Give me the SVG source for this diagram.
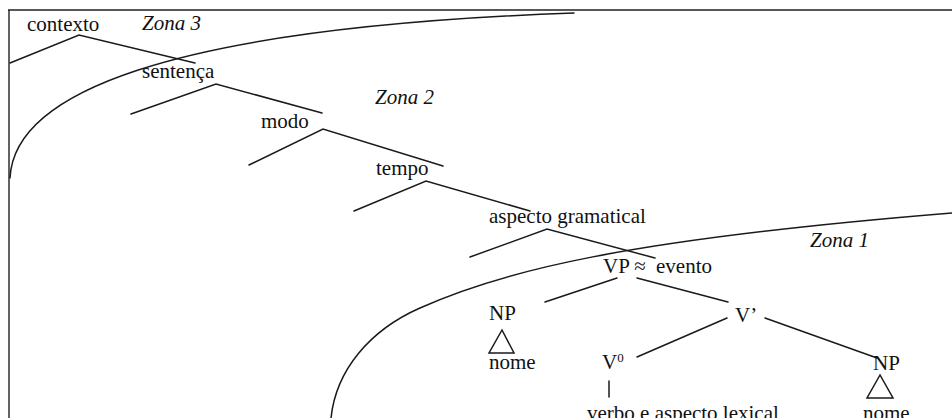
<svg xmlns="http://www.w3.org/2000/svg" width="952" height="418" viewBox="0 0 952 418">
<style>
text{font-family:"Liberation Serif","Times New Roman",serif;font-size:21px;fill:#111}
.it{font-style:italic}
.ln{stroke:#1a1a1a;stroke-width:1.5;fill:none;stroke-linecap:round}
.fr{stroke:#222;stroke-width:1.4;fill:none}
</style>
<rect width="952" height="418" fill="#fff"/>
<g id="frame">
<path class="fr" d="M8 10 H952 M9 10 V418"/>
</g>
<g id="zones">
<path class="ln" d="M10 178 C14 95, 160 28, 574 13"/>
<path class="ln" d="M331 418 C336 370, 370 330, 420 308 C500 272, 620 240, 952 213"/>
<text class="it" x="142" y="30">Zona 3</text>
<text class="it" x="375" y="104">Zona 2</text>
<text class="it" x="810" y="247">Zona 1</text>
</g>
<g id="connectors">
<path class="ln" d="M10 63 L79 35 L195 63"/>
<path class="ln" d="M131 114 L216 84 L322 113"/>
<path class="ln" d="M249 165 L323 129 L443 166"/>
<path class="ln" d="M354 211 L426 181 L530 211"/>
<path class="ln" d="M470 257 L547 229 L655 258"/>
<path class="ln" d="M545 302 L617 278"/>
<path class="ln" d="M637 278 L728 302"/>
<path class="ln" d="M637 357 L727 318"/>
<path class="ln" d="M765 318 L877 358"/>
<path class="ln" d="M609 381 V397"/>
</g>
<g id="contexto"><text x="27" y="31">contexto</text></g>
<g id="sentenca"><text x="142" y="78">sentença</text></g>
<g id="modo"><text x="261" y="128">modo</text></g>
<g id="tempo"><text x="376" y="175">tempo</text></g>
<g id="aspecto-gramatical"><text x="489" y="223">aspecto gramatical</text></g>
<g id="vp"><text x="603" y="273">VP ≈<tspan x="656">evento</tspan></text></g>
<g id="np-left">
<text x="489" y="320">NP</text>
<path class="ln" d="M502 330 L489 353 H514 Z"/>
<text x="489" y="369">nome</text>
</g>
<g id="v-bar"><text x="735" y="322">V’</text></g>
<g id="v0">
<text x="602" y="369">V<tspan dy="-7" font-size="13">0</tspan></text>
<text x="587" y="420">verbo e aspecto lexical</text>
</g>
<g id="np-right">
<text x="873" y="370">NP</text>
<path class="ln" d="M880 375 L867 398 H893 Z"/>
<text x="863" y="420">nome</text>
</g>
</svg>
